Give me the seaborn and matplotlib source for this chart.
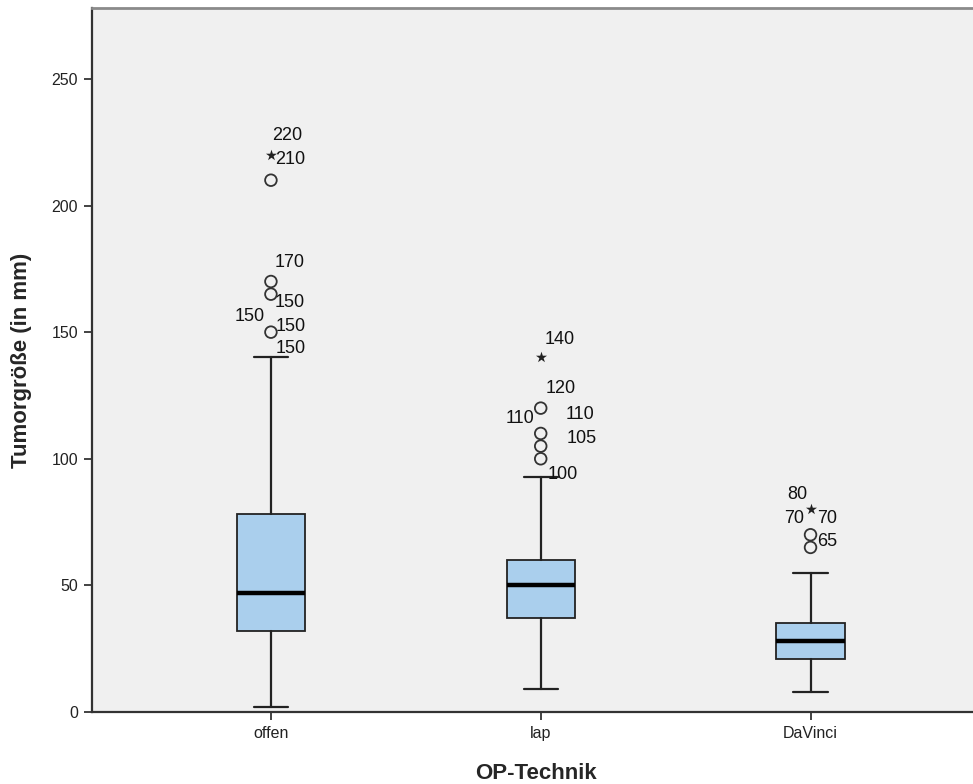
import numpy as np
import pandas as pd
import matplotlib
matplotlib.use("Agg")
import matplotlib.pyplot as plt
import seaborn as sns

# box statistics (mm)
groups = ["offen", "lap", "DaVinci"]
whisker_lo = [2, 9, 8]
q1 = [32, 37, 21]
median = [47, 50, 28]
q3 = [78, 60, 35]
whisker_hi = [140, 93, 55]

# outliers: group index, value, kind (o = mild, * = extreme)
out_group = [0, 0, 0, 0, 0, 1, 1, 1, 1, 1, 2, 2, 2]
out_value = [220, 210, 170, 165, 150, 140, 120, 110, 105, 100, 80, 70, 65]
out_kind = ["*", "o", "o", "o", "o", "*", "o", "o", "o", "o", "*", "o", "o"]

# case labels next to the outliers: group index, x offset, y position, text
lab_group = [0, 0, 0, 0, 0, 0, 0, 1, 1, 1, 1, 1, 1, 2, 2, 2, 2]
lab_dx = [0.06, 0.07, 0.07, 0.07, -0.08, 0.075, 0.075,
          0.07, 0.075, -0.075, 0.145, 0.15, 0.08,
          -0.05, -0.06, 0.06, 0.06]
lab_y = [227.5, 218, 177.7, 161.9, 156, 152.4, 143.4,
         147, 127.6, 116, 117.3, 108.2, 93.6,
         86, 76.6, 76.6, 67.5]
lab_text = ["220", "210", "170", "150", "150", "150", "150",
            "140", "120", "110", "110", "105", "100",
            "80", "70", "70", "65"]

sns.set_style("white")
plt.rcParams["font.family"] = ["Liberation Sans", "DejaVu Sans"]

fig = plt.figure(figsize=(9.73, 7.84), dpi=100)
ax = fig.add_axes([0.0946, 0.0918, 0.912, 0.898])
ax.set_facecolor("#F0F0F0")

stats = []
for i, g in enumerate(groups):
    stats.append(dict(label=g, whislo=whisker_lo[i], q1=q1[i], med=median[i],
                      q3=q3[i], whishi=whisker_hi[i], fliers=[]))

ax.bxp(stats, positions=range(len(groups)), widths=0.253, patch_artist=True,
       showfliers=False,
       boxprops=dict(facecolor="#AACFED", edgecolor="#222222", linewidth=1.3),
       medianprops=dict(color="black", linewidth=3.2),
       whiskerprops=dict(color="#222222", linewidth=1.6),
       capprops=dict(color="#222222", linewidth=1.6), capwidths=0.127)

outliers = pd.DataFrame({"group": out_group, "value": out_value, "kind": out_kind})
mild = outliers[outliers.kind == "o"]
extreme = outliers[outliers.kind == "*"]
sns.scatterplot(data=mild, x="group", y="value", ax=ax, marker="o", s=70,
                facecolor="none", edgecolor="#333333", linewidth=1.3, zorder=5)
sns.scatterplot(data=extreme, x="group", y="value", ax=ax, marker="*", s=70,
                color="#222222", linewidth=0, zorder=5)

for g, dx, y, t in zip(lab_group, lab_dx, lab_y, lab_text):
    ax.text(g + dx, y, t, fontsize=13, ha="center", va="center", color="#111111")

ax.set_xlim(-0.663, 2.626)
ax.set_ylim(0, 278)
ax.set_yticks([0, 50, 100, 150, 200, 250])
ax.set_xticks(range(len(groups)))
ax.set_xticklabels(groups)
ax.tick_params(axis="both", direction="out", length=6, width=1.2, color="#222222",
               labelsize=11.5, labelcolor="#222222", pad=4, left=True, bottom=True)

for side in ["left", "bottom"]:
    ax.spines[side].set_color("#333333")
    ax.spines[side].set_linewidth(1.6)
ax.spines["top"].set_color("#8A8A8A")
ax.spines["top"].set_linewidth(2)
ax.spines["right"].set_visible(False)

ax.set_xlabel("OP-Technik", fontsize=16, fontweight="bold", labelpad=16)
ax.set_ylabel("Tumorgröße (in mm)", fontsize=16, fontweight="bold", labelpad=14)

fig.savefig("out.png", dpi=100, facecolor="white")
